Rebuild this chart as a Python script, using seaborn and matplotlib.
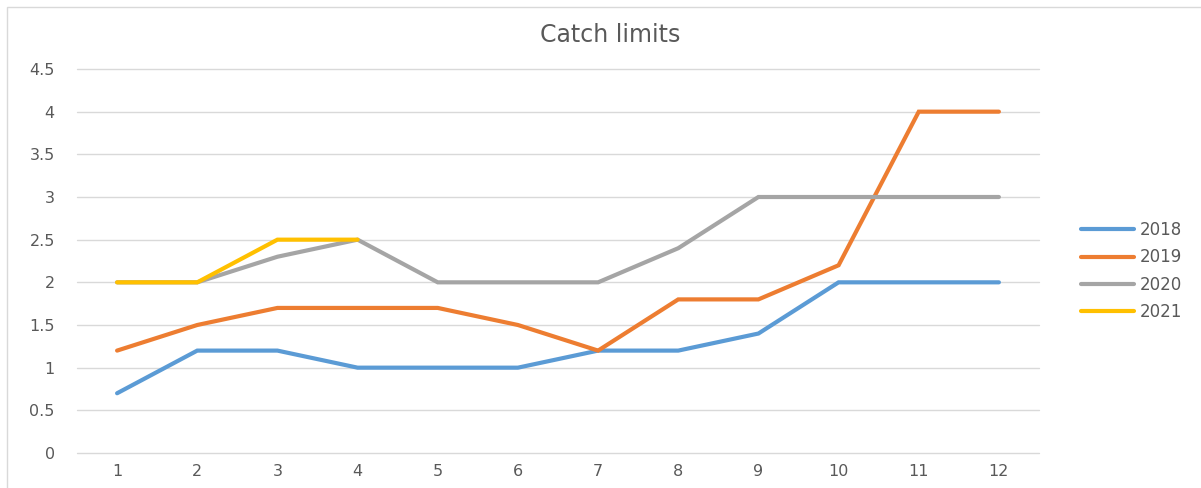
import matplotlib
matplotlib.use('Agg')
import matplotlib.pyplot as plt
import seaborn as sns
import pandas as pd
import numpy as np
from matplotlib.patches import Rectangle

months = list(range(1, 13))
y2018 = [0.7, 1.2, 1.2, 1.0, 1.0, 1.0, 1.2, 1.2, 1.4, 2.0, 2.0, 2.0]
y2019 = [1.2, 1.5, 1.7, 1.7, 1.7, 1.5, 1.2, 1.8, 1.8, 2.2, 4.0, 4.0]
y2020 = [2.0, 2.0, 2.3, 2.5, 2.0, 2.0, 2.0, 2.4, 3.0, 3.0, 3.0, 3.0]
y2021 = [2.0, 2.0, 2.5, 2.5] + [np.nan] * 8
series = ['2018', '2019', '2020', '2021']
colors = ['#5B9BD5', '#ED7D31', '#A5A5A5', '#FFC000']

wide = pd.DataFrame({'x': months, '2018': y2018, '2019': y2019,
                     '2020': y2020, '2021': y2021})
df = wide.melt(id_vars='x', var_name='year', value_name='value').dropna()

sns.set_style('white')
plt.rcParams['font.family'] = ['DejaVu Sans']
text_col = '#595959'

fig = plt.figure(figsize=(12.01, 4.88), dpi=100)
ax = fig.add_axes([77 / 1201, 35 / 488, (1039 - 77) / 1201, (453 - 69) / 488])

sns.lineplot(data=df, x='x', y='value', hue='year', hue_order=series,
             palette=colors, linewidth=3, ax=ax, legend=False,
             solid_capstyle='round', solid_joinstyle='miter')

ax.set_xlim(0.5, 12.5)
ax.set_ylim(0, 4.5)
ax.set_xticks(months)
ax.set_yticks(np.arange(0, 4.51, 0.5))
ax.set_yticklabels(['0', '0.5', '1', '1.5', '2', '2.5', '3', '3.5', '4', '4.5'])
ax.grid(axis='y', color='#D9D9D9', linewidth=1)
for gl in ax.get_ygridlines():
    gl.set_clip_on(False)
ax.set_axisbelow(True)
for s in ax.spines.values():
    s.set_visible(False)
ax.tick_params(axis='both', length=0, labelsize=11.5, colors=text_col)
ax.tick_params(axis='y', pad=16)
ax.tick_params(axis='x', pad=8)
ax.set_xlabel('')
ax.set_ylabel('')

fig.text(610 / 1201, 1 - 35 / 488, 'Catch limits', ha='center', va='center',
         fontsize=17, color=text_col)

handles = [plt.Line2D([], [], color=c, linewidth=3, solid_capstyle='round')
           for c in colors]
fig.legend(handles, series, loc='center left',
           bbox_to_anchor=(1066 / 1201, 1 - 271 / 488), frameon=False,
           fontsize=12, labelcolor=text_col, handlelength=3.2,
           handletextpad=0.3, labelspacing=0.55)

fig.patches.append(Rectangle((7 / 1201, -0.1), 1.2, 1 - 7 / 488 + 0.1,
                             transform=fig.transFigure, fill=False,
                             edgecolor='#D9D9D9', linewidth=1))

fig.savefig('out.png', dpi=100)
